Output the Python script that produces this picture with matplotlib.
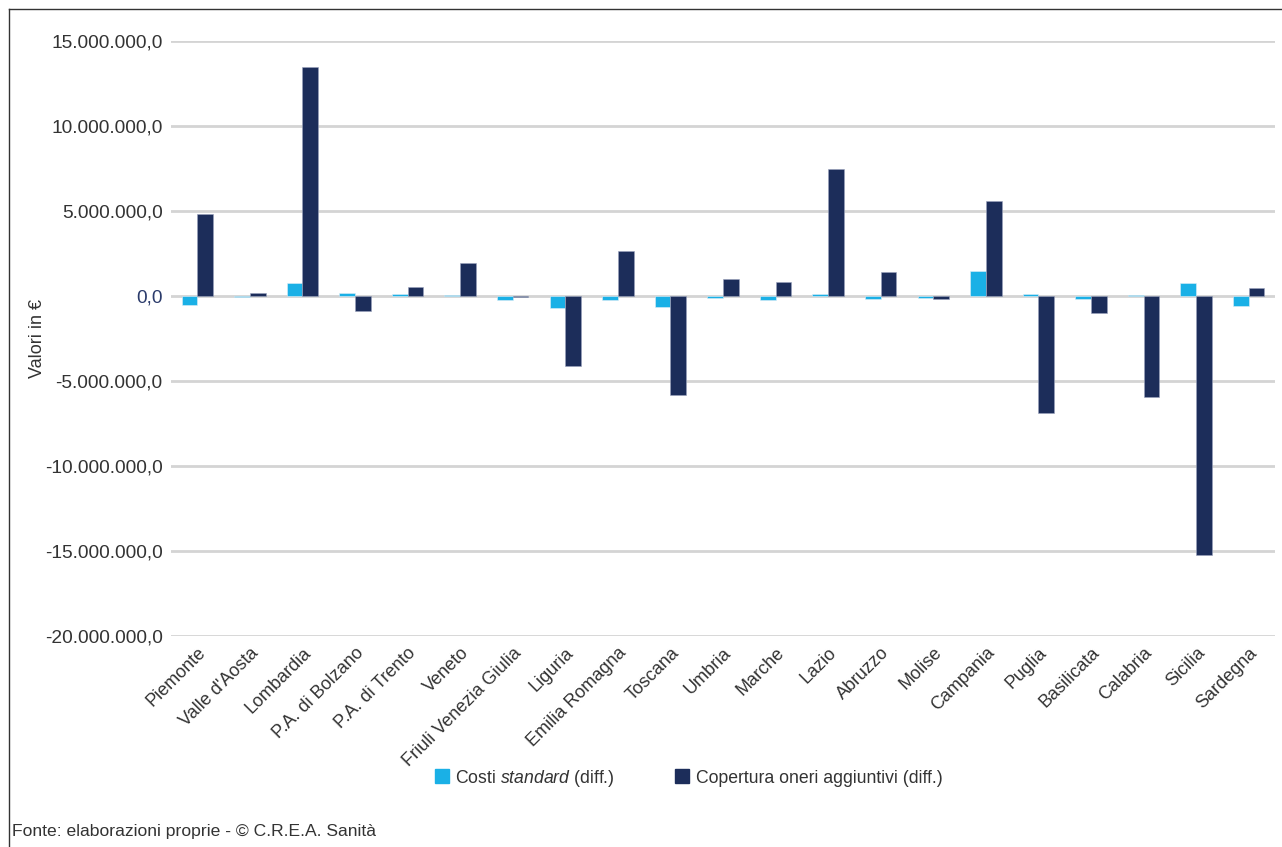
import matplotlib
matplotlib.use("Agg")
import matplotlib.pyplot as plt
from matplotlib.lines import Line2D
from matplotlib.ticker import FuncFormatter
import numpy as np

plt.rcParams['font.family'] = ['Liberation Sans', 'DejaVu Sans']
plt.rcParams['mathtext.fontset'] = 'custom'
plt.rcParams['mathtext.it'] = 'Liberation Sans:italic'
plt.rcParams['mathtext.rm'] = 'Liberation Sans'

regioni = ["Piemonte", "Valle d'Aosta", "Lombardia", "P.A. di Bolzano", "P.A. di Trento",
           "Veneto", "Friuli Venezia Giulia", "Liguria", "Emilia Romagna", "Toscana",
           "Umbria", "Marche", "Lazio", "Abruzzo", "Molise", "Campania", "Puglia",
           "Basilicata", "Calabria", "Sicilia", "Sardegna"]

# differenze in euro
costi_standard = [-510000, -40000, 760000, 180000, 100000,
                  40000, -250000, -690000, -210000, -660000,
                  -90000, -220000, 140000, -180000, -120000, 1500000, 120000,
                  -170000, 40000, 740000, -590000]
oneri_aggiuntivi = [4820000, 190000, 13470000, -860000, 510000,
                    1940000, -50000, -4120000, 2650000, -5840000,
                    1010000, 840000, 7450000, 1400000, -180000, 5610000, -6880000,
                    -1020000, -5920000, -15240000, 500000]

col_std = '#1AB0E6'
col_oneri = '#1C2D5A'
col_testo = '#333333'

fig = plt.figure(figsize=(12.82, 8.47), dpi=100)
ax = fig.add_axes([171/1282, 1 - 636/847, (1275 - 171)/1282, (636 - 41)/847])

x = np.arange(len(regioni))
w = 0.3
ax.bar(x - w/2, costi_standard, w, color=col_std, edgecolor='#DDEEF7', linewidth=0.4, zorder=3)
ax.bar(x + w/2, oneri_aggiuntivi, w, color=col_oneri, edgecolor='#9AA3BD', linewidth=0.4, zorder=3)

ax.set_xlim(-0.5, len(regioni) - 0.5)
ax.set_ylim(-20000000, 15000000)
ax.set_yticks(np.arange(-20000000, 15000001, 5000000))


def fmt_it(v, pos):
    s = "{:,.1f}".format(v)
    return s.replace(",", "X").replace(".", ",").replace("X", ".")


ax.yaxis.set_major_formatter(FuncFormatter(fmt_it))
ax.grid(axis='y', color='#D4D4D4', linewidth=2, zorder=0)
for s in ax.spines.values():
    s.set_visible(False)
ax.tick_params(axis='both', length=0, labelsize=13, colors=col_testo)
ax.tick_params(axis='y', pad=6, labelsize=13.8)
ax.tick_params(axis='x', pad=6)
for lab in ax.get_yticklabels():
    if lab.get_text() == "0,0":
        lab.set_color('#2B3B6B')

ax.set_xticks(x)
ax.set_xticklabels(regioni, rotation=45, ha='right', rotation_mode='anchor')
ax.set_ylabel("Valori in €", fontsize=13, color=col_testo)
ax.yaxis.set_label_coords((46 - 171) / 1104, 0.5)

handles = [Line2D([], [], marker='s', linestyle='none', markersize=10.5, color=col_std),
           Line2D([], [], marker='s', linestyle='none', markersize=10.5, color=col_oneri)]
labels = ["Costi $\\it{standard}$ (diff.)", "Copertura oneri aggiuntivi (diff.)"]
fig.legend(handles, labels, loc='center', bbox_to_anchor=(688/1282, 1 - 778/847),
           ncol=2, frameon=False, fontsize=12.7, handlelength=0.9, handletextpad=0.3,
           columnspacing=3.4, labelcolor=col_testo)

fig.text(12/1282, 1 - 831/847, "Fonte: elaborazioni proprie - © C.R.E.A. Sanità",
         fontsize=12.6, color=col_testo, va='center', ha='left')

# cornice sinistra e superiore
fig.add_artist(Line2D([8.5/1282, 8.5/1282], [0, 1 - 9/847], color=col_testo, linewidth=1))
fig.add_artist(Line2D([8.5/1282, 1], [1 - 9/847, 1 - 9/847], color=col_testo, linewidth=1))

fig.savefig("out.png", dpi=100)
